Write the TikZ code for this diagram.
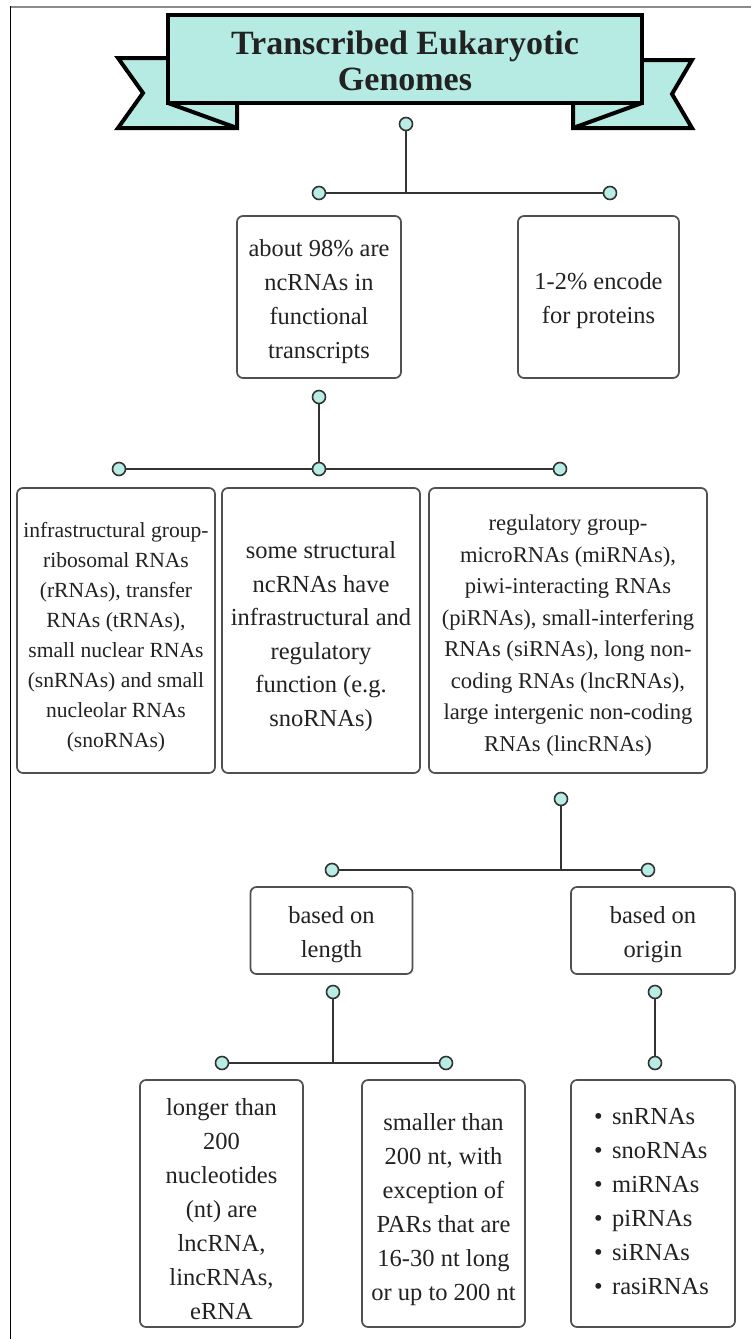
\documentclass[tikz,border=0pt]{standalone}
\usepackage{fontspec}
\setmainfont{Liberation Serif}
\definecolor{bannerc}{HTML}{B5EBE2}
\definecolor{dotc}{HTML}{B7EDE4}
\definecolor{linec}{HTML}{333333}
\definecolor{boxc}{HTML}{505050}
\definecolor{txt}{HTML}{222222}
\definecolor{framegray}{HTML}{8C8C8C}
\newcommand{\fsz}[2]{\fontsize{#1}{#2}\selectfont}
\begin{document}
\begin{tikzpicture}[x=1pt,y=-1pt,
  box/.style={draw=boxc, line width=1.7pt, rounded corners=6pt, fill=white, inner sep=0pt},
  boxtext/.style={align=center, text=txt, inner sep=0pt},
  dot/.style={circle, draw=linec, fill=dotc, line width=1.6pt, inner sep=0pt, minimum size=13pt},
  conn/.style={draw=linec, line width=2pt},
  banner/.style={fill=bannerc, draw=black, line width=4pt, line join=miter},
  bline/.style={draw=black, line width=4pt, line cap=round}]
\useasboundingbox (0,0) rectangle (751,1339);
% frame
\draw[draw=framegray, line width=2.5pt] (10,7) -- (751,7);
\draw[black, line width=1.3pt] (10.5,6) -- (10.5,1339);
% banner
\draw[banner] (118,58) -- (237,58) -- (237,128) -- (118,128) -- (143,93) -- cycle;
\draw[bline] (168,103) -- (237,128);
\draw[banner] (692,60) -- (573,60) -- (573,128) -- (692,128) -- (672,94) -- cycle;
\draw[bline] (642,103) -- (573,128);
\draw[banner] (168,15) rectangle (642,103);
\node[font=\fsz{34}{36}\bfseries, align=center, text=txt, inner sep=0pt] (title) at (405,61) {Transcribed Eukaryotic\\Genomes};
% connector level 1
\node[dot] (d0) at (406,124) {};
\coordinate (j0) at (406,193);
\node[dot] (d0l) at (319,193) {};
\node[dot] (d0r) at (610,193) {};
\draw[conn] (d0) -- (j0);
\draw[conn] (d0l) -- (d0r);
% level 1 boxes
\node[box, minimum width=164pt, minimum height=162pt] (a) at (319,297) {};
\node[boxtext, font=\fsz{24.4}{34}] (at) at ([yshift=-5pt]a.center) {about 98\% are\\ncRNAs in\\functional\\transcripts};
\node[box, minimum width=161pt, minimum height=162pt] (b) at (598.5,297) {};
\node[boxtext, font=\fsz{24.4}{34}] (bt) at ([yshift=-4pt]b.center) {1-2\% encode\\for proteins};
% connector level 2
\node[dot] (d1) at (319,397) {};
\node[dot] (d1l) at (119,469) {};
\node[dot] (d1m) at (319,469) {};
\node[dot] (d1r) at (560,469) {};
\draw[conn] (d1) -- (d1m);
\draw[conn] (d1l) -- (d1m);
\draw[conn] (d1m) -- (d1r);
% level 2 boxes
\node[box, minimum width=198pt, minimum height=285pt] (l) at (116,630.5) {};
\node[boxtext, font=\fsz{21.6}{30}] (lt) at ([yshift=-7pt]l.center) {infrastructural group-\\ribosomal RNAs\\(rRNAs), transfer\\RNAs (tRNAs),\\small nuclear RNAs\\(snRNAs) and small\\nucleolar RNAs\\(snoRNAs)};
\node[box, minimum width=198pt, minimum height=285pt] (m) at (321,630.5) {};
\node[boxtext, font=\fsz{24.5}{33.6}] (mt) at ([yshift=-6pt]m.center) {some structural\\ncRNAs have\\infrastructural and\\regulatory\\function (e.g.\\snoRNAs)};
\node[box, minimum width=278pt, minimum height=285pt] (r) at (568,630.5) {};
\node[boxtext, font=\fsz{22.6}{31.5}] (rt) at ([yshift=-5pt]r.center) {regulatory group-\\microRNAs (miRNAs),\\piwi-interacting RNAs\\(piRNAs), small-interfering\\RNAs (siRNAs), long non-\\coding RNAs (lncRNAs),\\large intergenic non-coding\\RNAs (lincRNAs)};
% connector level 3
\node[dot] (d2) at (561,799) {};
\coordinate (j2) at (561,870);
\node[dot] (d2l) at (332,870) {};
\node[dot] (d2r) at (648,870) {};
\draw[conn] (d2) -- (j2);
\draw[conn] (d2l) -- (d2r);
% level 3 boxes
\node[box, minimum width=162pt, minimum height=87pt] (len) at (331.5,930.5) {};
\node[boxtext, font=\fsz{24.5}{34}] (lent) at ([yshift=-4pt]len.center) {based on\\length};
\node[box, minimum width=164pt, minimum height=87pt] (ori) at (653,930.5) {};
\node[boxtext, font=\fsz{24.5}{34}] (orit) at ([yshift=-4pt]ori.center) {based on\\origin};
% connector level 4
\node[dot] (d3) at (333,992) {};
\coordinate (j3) at (333,1063);
\node[dot] (d3l) at (222,1063) {};
\node[dot] (d3r) at (446,1063) {};
\draw[conn] (d3) -- (j3);
\draw[conn] (d3l) -- (d3r);
\node[dot] (d4) at (655,992) {};
\node[dot] (d4b) at (655,1063) {};
\draw[conn] (d4) -- (d4b);
% bottom boxes
\node[box, minimum width=163pt, minimum height=247pt] (bl) at (221.5,1203.5) {};
\node[boxtext, font=\fsz{24.5}{34}] (blt) at ([yshift=-6pt]bl.center) {longer than\\200\\nucleotides\\(nt) are\\lncRNA,\\lincRNAs,\\eRNA};
\node[box, minimum width=163pt, minimum height=247pt] (bm) at (443.5,1203.5) {};
\node[boxtext, font=\fsz{24.5}{34}] (bmt) at ([yshift=-6pt]bm.center) {smaller than\\200 nt, with\\exception of\\PARs that are\\16-30 nt long\\or up to 200 nt};
\node[box, minimum width=164pt, minimum height=247pt] (br) at (653,1203.5) {};
\node[anchor=west, align=left, inner sep=0pt, text=txt, font=\fsz{24.5}{34}] (brlist) at (594,1202) {\makebox[18pt][l]{\textbullet}snRNAs\\\makebox[18pt][l]{\textbullet}snoRNAs\\\makebox[18pt][l]{\textbullet}miRNAs\\\makebox[18pt][l]{\textbullet}piRNAs\\\makebox[18pt][l]{\textbullet}siRNAs\\\makebox[18pt][l]{\textbullet}rasiRNAs};
\end{tikzpicture}
\end{document}
